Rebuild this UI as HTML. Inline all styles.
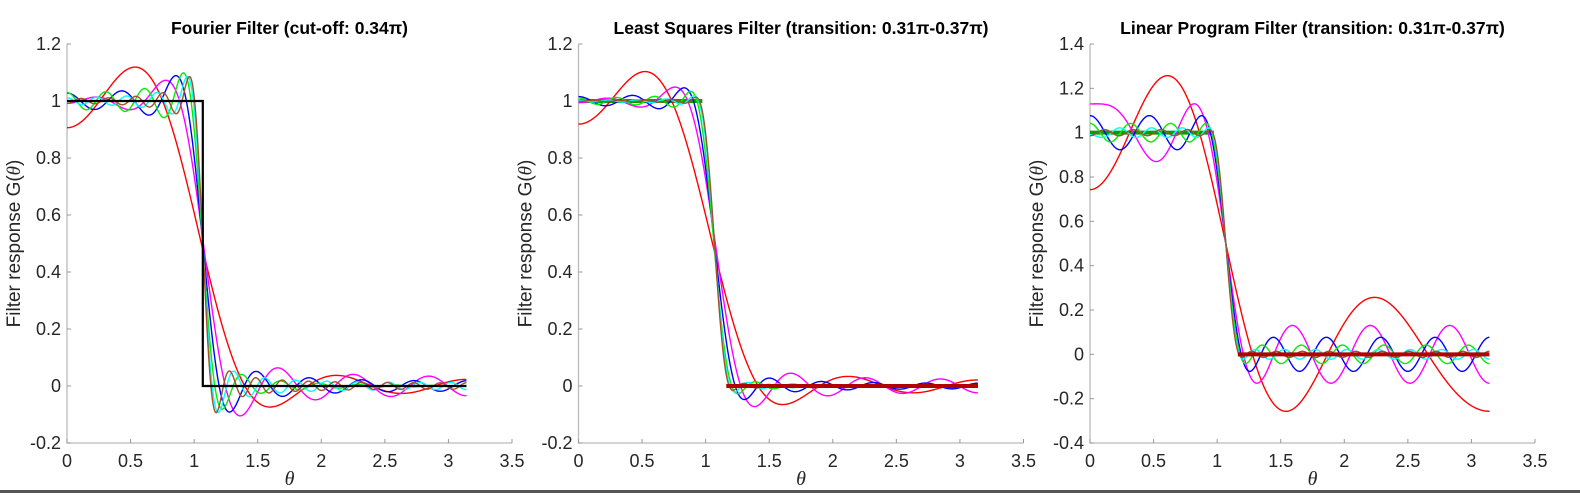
<!DOCTYPE html>
<html><head><meta charset="utf-8"><style>
body{margin:0;background:#fff;width:1580px;height:493px;overflow:hidden;font-family:"Liberation Sans",sans-serif}
</style></head><body>
<svg id="s" width="1580" height="493" xmlns="http://www.w3.org/2000/svg">
<rect x="0" y="490" width="1580" height="3" fill="#555"/>
</svg>
<script>
const orders = [5, 10, 15, 20, 25, 30];
const seriesColors = ["#ff0000", "#ff00ff", "#0000ff", "#00ee00", "#00ffff", "#a0522d"];
const cutoffPi = 0.34;
const passEdgePi = 0.31;
const stopEdgePi = 0.37;
const xTicks = [0, 0.5, 1, 1.5, 2, 2.5, 3, 3.5];
const yTicks1 = [-0.2, 0, 0.2, 0.4, 0.6, 0.8, 1, 1.2];
const yTicks3 = [-0.4, -0.2, 0, 0.2, 0.4, 0.6, 0.8, 1, 1.2, 1.4];
const titles = ["Fourier Filter (cut-off: 0.34\u03c0)", "Least Squares Filter (transition: 0.31\u03c0-0.37\u03c0)", "Linear Program Filter (transition: 0.31\u03c0-0.37\u03c0)"];

const NS="http://www.w3.org/2000/svg";
const svg=document.getElementById('s');
function mk(t,a,p){const e=document.createElementNS(NS,t);for(const k in a)e.setAttribute(k,a[k]);(p||svg).appendChild(e);return e;}

function solve(A,b){const n=b.length;for(let i=0;i<n;i++){let p=i;for(let r=i+1;r<n;r++)if(Math.abs(A[r][i])>Math.abs(A[p][i]))p=r;[A[i],A[p]]=[A[p],A[i]];[b[i],b[p]]=[b[p],b[i]];for(let r=i+1;r<n;r++){const f=A[r][i]/A[i][i];for(let c=i;c<n;c++)A[r][c]-=f*A[i][c];b[r]-=f*b[i];}}const x=new Array(n).fill(0);for(let i=n-1;i>=0;i--){let s=b[i];for(let c=i+1;c<n;c++)s-=A[i][c]*x[c];x[i]=s/A[i][i];}return x;}
const wp=passEdgePi*Math.PI, ws=stopEdgePi*Math.PI, wc=cutoffPi*Math.PI;
const grid=[],des=[];
for(let i=0;i<=250;i++){grid.push(wp*i/250);des.push(1);}
for(let i=0;i<=500;i++){grid.push(ws+(Math.PI-ws)*i/500);des.push(0);}
function wls(N,w){const n=N+1;const A=[],b=[];for(let i=0;i<n;i++){A.push(new Array(n).fill(0));b.push(0);}
 for(let g=0;g<grid.length;g++){const c=[];for(let k=0;k<n;k++)c.push(Math.cos(k*grid[g]));for(let i=0;i<n;i++){b[i]+=w[g]*c[i]*des[g];for(let j=0;j<n;j++)A[i][j]+=w[g]*c[i]*c[j];}}return solve(A,b);}
function fourier(N){const a=[wc/Math.PI];for(let k=1;k<=N;k++)a.push(2*Math.sin(k*wc)/(k*Math.PI));return a;}
function ls(N){return wls(N,grid.map(()=>1));}
function lp(N){let w=grid.map(()=>1/grid.length),a;for(let it=0;it<120;it++){a=wls(N,w);let s=0;for(let g=0;g<grid.length;g++){const e=Math.abs(ev(a,grid[g])-des[g]);w[g]*=e+1e-9;s+=w[g];}for(let g=0;g<grid.length;g++)w[g]/=s;}return a;}
function ev(a,t){let s=0;for(let k=0;k<a.length;k++)s+=a[k]*Math.cos(k*t);return s;}

const X0=[67,578.5,1090],W=445,Ytop=44,Ybot=443;
function panel(p,ymin,ymax,yt,design){
 const g=mk('g',{});
 
 
 const x0=X0[p];const sx=v=>x0+v/3.5*W;const sy=v=>Ybot-(v-ymin)/(ymax-ymin)*(Ybot-Ytop);
 const ax=mk('path',{d:`M${x0} ${Ytop}V${Ybot}H${x0+W}`,stroke:'#bbb','stroke-width':1.3,fill:'none'},g);
 
 xTicks.forEach(v=>{mk('line',{x1:sx(v),x2:sx(v),y1:Ybot,y2:Ybot-4,stroke:'#999'},g);
  const t=mk('text',{x:sx(v),y:Ybot+24,'text-anchor':'middle','font-size':18,fill:'#262626'},g);t.textContent=v;
  });
 yt.forEach(v=>{mk('line',{x1:x0,x2:x0+4,y1:sy(v),y2:sy(v),stroke:'#999'},g);
  const t=mk('text',{x:x0-6,y:sy(v)+6,'text-anchor':'end','font-size':18,fill:'#262626'},g);t.textContent=v;
  });
 const ti=mk('text',{x:x0+W/2,y:34,'text-anchor':'middle','font-size':17.5,'font-weight':'bold',fill:'#000'},g);ti.textContent=titles[p];
 
 const xl=mk('text',{x:x0+W/2,y:485,'text-anchor':'middle','font-size':20,'font-style':'italic','font-family':'Liberation Serif',fill:'#262626'},g);xl.textContent='\u03b8';
 
 const yl=mk('text',{transform:`translate(${x0-47},${(Ytop+Ybot)/2}) rotate(-90)`,'text-anchor':'middle','font-size':19,fill:'#262626'},g);
 yl.innerHTML='Filter response G(<tspan font-style="italic" font-family="Liberation Serif">\u03b8</tspan>)';
 
 if(p>0){const ip=mk('line',{x1:sx(0),x2:sx(wp),y1:sy(1),y2:sy(1),stroke:'#00a000','stroke-width':4},g);
  }
 orders.forEach((N,i)=>{const a=design(N);let d='';for(let j=0;j<=600;j++){const t=Math.PI*j/600;d+=(j?'L':'M')+sx(t).toFixed(2)+' '+sy(ev(a,t)).toFixed(2);}
  const l=mk('path',{d:d,stroke:seriesColors[i],'stroke-width':1.4,fill:'none'},g);
  });
 if(p===0){const id=mk('path',{d:`M${sx(0)} ${sy(1)}H${sx(wc)}V${sy(0)}H${sx(Math.PI)}`,stroke:'#000','stroke-width':2.2,fill:'none'},g);
  }
 else{const is=mk('line',{x1:sx(ws),x2:sx(Math.PI),y1:sy(0),y2:sy(0),stroke:'#b00000','stroke-width':4},g);
  }
}
panel(0,-0.2,1.2,yTicks1,fourier);
panel(1,-0.2,1.2,yTicks1,ls);
panel(2,-0.4,1.4,yTicks3,lp);
</script>
</body></html>
